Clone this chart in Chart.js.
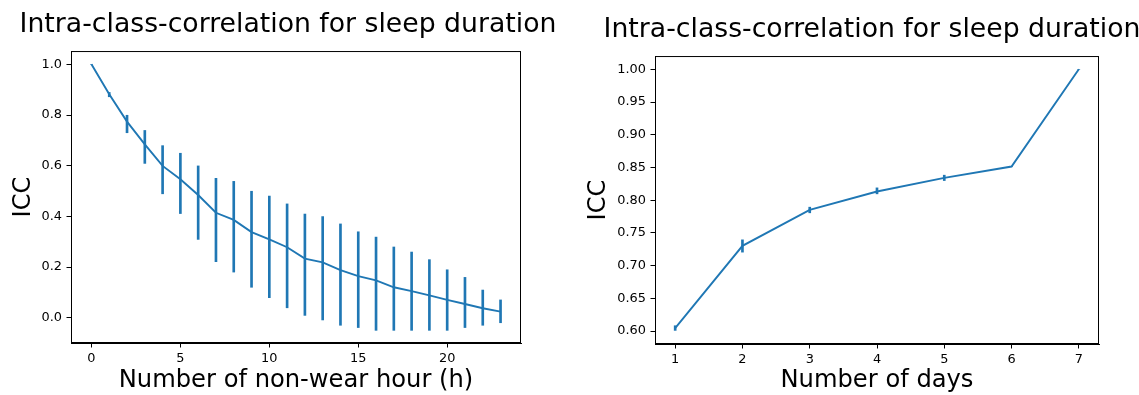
<!DOCTYPE html>
<html>
<head>
<meta charset="utf-8">
<script src="https://cdn.jsdelivr.net/npm/chart.js@4.4.1/dist/chart.umd.min.js"></script>
<style>
    html, body { margin: 0; padding: 0; background: #fff; overflow: hidden; }
    body { width: 1139px; height: 395px; position: relative; }
    .wrap { position: absolute; top: 0; height: 395px; }
    .left { left: 0; width: 576px; }
    .right { left: 560px; width: 624px; }
</style>
</head>
<body>
<div class="wrap left"><canvas id="hourChart" width="576" height="395"></canvas></div>
<div class="wrap right"><canvas id="dayChart" width="624" height="395"></canvas></div>
<script>
// 왼쪽 : 착용하지 않은 시간별 ICC
const hours = [0, 1, 2, 3, 4, 5, 6, 7, 8, 9, 10, 11, 12, 13, 14, 15, 16, 17, 18, 19, 20, 21, 22, 23];
const hourIcc = [1.0, 0.882, 0.774, 0.684, 0.599, 0.546, 0.484, 0.414, 0.386, 0.338, 0.309, 0.278,
                 0.233, 0.218, 0.188, 0.164, 0.147, 0.120, 0.105, 0.088, 0.070, 0.054, 0.037, 0.024];
const hourLow = [1.0, 0.872, 0.730, 0.609, 0.489, 0.411, 0.309, 0.221, 0.180, 0.120, 0.079, 0.039,
                 0.009, -0.009, -0.030, -0.039, -0.050, -0.050, -0.050, -0.050, -0.050, -0.039, -0.030, -0.020];
const hourHigh = [1.0, 0.889, 0.799, 0.739, 0.679, 0.649, 0.599, 0.550, 0.538, 0.499, 0.480, 0.449,
                  0.409, 0.399, 0.370, 0.339, 0.318, 0.279, 0.259, 0.229, 0.189, 0.159, 0.109, 0.070];
const hourXTicks = [0, 5, 10, 15, 20];
const hourYTicks = [0.0, 0.2, 0.4, 0.6, 0.8, 1.0];

// 오른쪽 : 일수별 ICC
const days = [1, 2, 3, 4, 5, 6, 7];
const dayIcc = [0.6046, 0.7303, 0.7852, 0.8132, 0.8340, 0.8514, 1.0];
const dayLow = [0.6010, 0.7206, 0.7807, 0.8097, 0.8300, 0.8514, 1.0];
const dayHigh = [0.6081, 0.7394, 0.7893, 0.8188, 0.8382, 0.8514, 1.0];
const dayXTicks = [1, 2, 3, 4, 5, 6, 7];
const dayYTicks = [0.60, 0.65, 0.70, 0.75, 0.80, 0.85, 0.90, 0.95, 1.00];

const titleText = 'Intra-class-correlation for sleep duration';
const blue = '#1f77b4';

Chart.defaults.font.family = "'DejaVu Sans', sans-serif";
Chart.defaults.color = '#000';

// 축 박스 (위, 오른쪽 테두리)
const boxPlugin = {
    id: 'box',
    afterDraw(chart) {
        const a = chart.chartArea;
        const ctx = chart.ctx;
        ctx.save();
        ctx.strokeStyle = '#000';
        ctx.lineWidth = 1;
        ctx.strokeRect(a.left + 0.5, a.top + 0.5, a.right - a.left - 1, a.bottom - a.top - 1);
        ctx.restore();
    }
};

const panel = {
    make(id, o) {
        return new Chart(document.getElementById(id), {
            type: 'line',
            data: {
                datasets: [
                    {
                        // 오차 막대
                        type: 'bar',
                        data: o.x.map((v, i) => ({ x: v, y: [o.low[i], o.high[i]] })),
                        backgroundColor: blue,
                        borderWidth: 0,
                        barThickness: 2,
                    },
                    {
                        type: 'line',
                        data: o.x.map((v, i) => ({ x: v, y: o.y[i] })),
                        borderColor: blue,
                        borderWidth: 1.9,
                        pointRadius: 0,
                        tension: 0,
                    }
                ]
            },
            options: {
                responsive: false,
                animation: false,
                layout: { padding: 0 },
                plugins: {
                    legend: { display: false },
                    tooltip: { enabled: false },
                    title: {
                        display: true,
                        text: titleText,
                        font: { size: 26.7, weight: 'normal', lineHeight: 1.2 },
                        color: '#000',
                        padding: o.titlePad,
                    },
                },
                scales: {
                    x: {
                        type: 'linear',
                        min: o.xMin,
                        max: o.xMax,
                        offset: false,
                        afterFit(scale) { scale.height = o.xHeight; },
                        afterBuildTicks(scale) { scale.ticks = o.xTicks.map(v => ({ value: v })); },
                        ticks: {
                            autoSkip: false,
                            maxRotation: 0,
                            padding: 3,
                            font: { size: 12.9 },
                            callback: v => String(v),
                        },
                        grid: { drawOnChartArea: false, drawTicks: true, tickLength: 4.5, color: '#000', offset: false },
                        border: { display: true, color: '#000', width: 1 },
                        title: {
                            display: true,
                            text: o.xTitle,
                            font: { size: 24.2, lineHeight: 1.2 },
                            padding: { top: 0, bottom: 0 },
                        },
                    },
                    y: {
                        type: 'linear',
                        min: o.yMin,
                        max: o.yMax,
                        afterFit(scale) { scale.width = o.yWidth; },
                        afterBuildTicks(scale) { scale.ticks = o.yTicks.map(v => ({ value: v })); },
                        ticks: {
                            autoSkip: false,
                            padding: 4.5,
                            font: { size: 12.9 },
                            callback: v => v.toFixed(o.digits),
                        },
                        grid: { drawOnChartArea: false, drawTicks: true, tickLength: 4.5, color: '#000' },
                        border: { display: true, color: '#000', width: 1 },
                        title: {
                            display: true,
                            text: 'ICC',
                            font: { size: 24.2, lineHeight: 1.2 },
                            padding: { top: o.yTitlePad, bottom: 0 },
                        },
                    },
                    // 오른쪽 여백 (제목 가운데 맞춤용, 보이지 않음)
                    yPad: {
                        type: 'linear',
                        position: 'right',
                        afterFit(scale) { scale.width = o.rightSpace; },
                        ticks: { display: false },
                        grid: { display: false },
                        border: { display: false },
                    },
                },
            },
            plugins: [boxPlugin],
        });
    }
};

panel.make('hourChart', {
    x: hours, y: hourIcc, low: hourLow, high: hourHigh,
    xTicks: hourXTicks, yTicks: hourYTicks, digits: 1,
    xMin: -1.15, xMax: 24.15, yMin: -0.1, yMax: 1.0525,
    xTitle: 'Number of non-wear hour (h)',
    rightSpace: 55, yWidth: 71, xHeight: 52, yTitlePad: 9,
    titlePad: { top: 9, bottom: 10 },
});

panel.make('dayChart', {
    x: days, y: dayIcc, low: dayLow, high: dayHigh,
    xTicks: dayXTicks, yTicks: dayYTicks, digits: 2,
    xMin: 0.7, xMax: 7.3, yMin: 0.5802, yMax: 1.0203,
    xTitle: 'Number of days',
    rightSpace: 85, yWidth: 95, xHeight: 51, yTitlePad: 24,
    titlePad: { top: 14, bottom: 10 },
});
</script>
</body>
</html>
